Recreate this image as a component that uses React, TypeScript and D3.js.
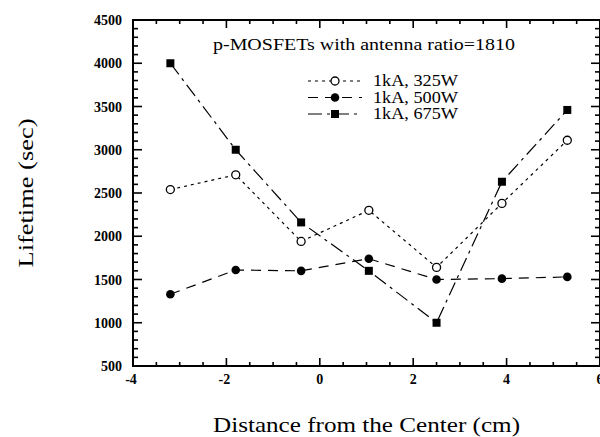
import React from "react";
import * as d3 from "d3";

const xs = [-3.2, -1.8, -0.4, 1.05, 2.5, 3.9, 5.3];
const s325 = [2540, 2710, 1940, 2300, 1640, 2380, 3110];
const s500 = [1330, 1610, 1600, 1740, 1500, 1510, 1530];
const s675 = [4000, 3000, 2160, 1600, 1000, 2630, 3460];
const seriesNames = ["1kA, 325W", "1kA, 500W", "1kA, 675W"];
const xTickLabels = [-4, -2, 0, 2, 4, 6];
const yTickLabels = [500, 1000, 1500, 2000, 2500, 3000, 3500, 4000, 4500];

const W = 600, H = 437;
const L = 133, R = 600, T = 20, B = 366;
const FONT = "'Liberation Serif', 'Times New Roman', serif";

export default function App() {
  const x = d3.scaleLinear().domain([-4, 6]).range([L, R]);
  const y = d3.scaleLinear().domain([500, 4500]).range([B, T]);
  const line = d3.line<number>().x((_, i) => x(xs[i])).y((d) => y(d));

  const xMinor = d3.range(-4, 6.001, 0.5);
  const yMinor = d3.range(500, 4501, 100);

  const series = [
    { data: s325, dash: "3,4", marker: "open" },
    { data: s500, dash: "10,7", marker: "dot" },
    { data: s675, dash: "14,5,3,5", marker: "square" },
  ];

  const marker = (m: string, cx: number, cy: number, key: any) => {
    if (m === "open")
      return <circle key={key} cx={cx} cy={cy} r={4} fill="#fff" stroke="#000" strokeWidth={1.3} />;
    if (m === "dot") return <circle key={key} cx={cx} cy={cy} r={4.3} fill="#000" />;
    return <rect key={key} x={cx - 4} y={cy - 4} width={8} height={8} fill="#000" />;
  };

  const legendY = [81, 97.5, 114];

  return (
    <svg width={W} height={H} style={{ position: "absolute", left: 0, top: 0, background: "#fff" }}>
      <rect x={0} y={0} width={W} height={H} fill="#fff" />
      {/* series */}
      {series.map((s, si) => (
        <g key={si}>
          <path d={line(s.data) || ""} fill="none" stroke="#000" strokeWidth={1.2} strokeDasharray={s.dash} />
          {s.data.map((v, i) => marker(s.marker, x(xs[i]), y(v), i))}
        </g>
      ))}
      {/* frame */}
      <rect x={L} y={T} width={R - L} height={B - T} fill="none" stroke="#000" strokeWidth={2} />
      {/* x ticks */}
      {xMinor.map((v, i) => {
        const major = Math.abs(v / 2 - Math.round(v / 2)) < 1e-6;
        const len = major ? 8 : 4;
        return (
          <g key={"xt" + i}>
            <line x1={x(v)} x2={x(v)} y1={B} y2={B - len} stroke="#000" strokeWidth={1.6} />
            <line x1={x(v)} x2={x(v)} y1={T} y2={T + len} stroke="#000" strokeWidth={1.6} />
          </g>
        );
      })}
      {yMinor.map((v, i) => {
        const major = v % 500 === 0;
        const len = major ? 9 : 5;
        return (
          <g key={"yt" + i}>
            <line x1={L} x2={L + len} y1={y(v)} y2={y(v)} stroke="#000" strokeWidth={1.6} />
            <line x1={R} x2={R - len} y1={y(v)} y2={y(v)} stroke="#000" strokeWidth={1.6} />
          </g>
        );
      })}
      {/* tick labels */}
      {xTickLabels.map((v) => (
        <text key={"xl" + v} x={x(v) - (v < 0 ? 2 : 0)} y={384} textAnchor="middle" fontFamily={FONT} fontWeight="bold" fontSize={14}>
          {v}
        </text>
      ))}
      {yTickLabels.map((v) => (
        <text key={"yl" + v} x={122} y={y(v) + 5} textAnchor="end" fontFamily={FONT} fontWeight="bold" fontSize={14}>
          {v}
        </text>
      ))}
      {/* title */}
      <text x={213} y={50} fontFamily={FONT} fontSize={17} textLength={302} lengthAdjust="spacingAndGlyphs">
        p-MOSFETs with antenna ratio=1810
      </text>
      {/* legend */}
      {series.map((s, i) => (
        <g key={"lg" + i}>
          <line x1={308} x2={362} y1={legendY[i]} y2={legendY[i]} stroke="#000" strokeWidth={1.2} strokeDasharray={s.dash} />
          {marker(s.marker, 335, legendY[i], "m")}
          <text x={373} y={legendY[i] + 5} fontFamily={FONT} fontSize={16} textLength={85} lengthAdjust="spacingAndGlyphs">
            {seriesNames[i]}
          </text>
        </g>
      ))}
      {/* axis titles */}
      <text x={213} y={432} fontFamily={FONT} fontSize={22} textLength={307} lengthAdjust="spacingAndGlyphs">
        Distance from the Center (cm)
      </text>
      <text
        transform={`translate(33, ${(T + B) / 2}) rotate(-90)`}
        textAnchor="middle"
        fontFamily={FONT}
        fontSize={22}
        textLength={149}
        lengthAdjust="spacingAndGlyphs"
      >
        Lifetime (sec)
      </text>
    </svg>
  );
}
